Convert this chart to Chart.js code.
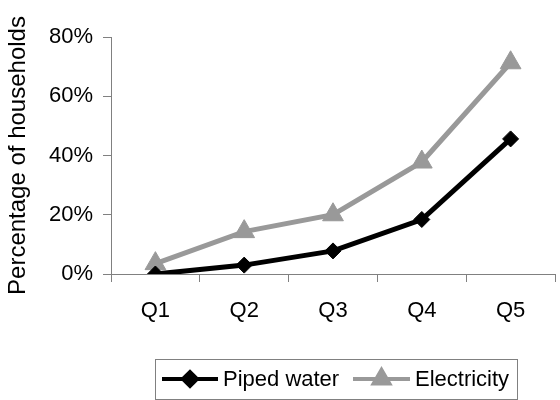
<!DOCTYPE html>
<html>
<head>
<meta charset="utf-8">
<script src="https://cdn.jsdelivr.net/npm/chart.js@4"></script>
<style>
    html, body { margin: 0; padding: 0; background: #fff; }
    #wrap { width: 560px; height: 400px; overflow: hidden; position: relative; }
    #chart { position: absolute; left: 0; top: 0; }
</style>
</head>
<body>
<div id="wrap"><canvas id="chart" width="568" height="400"></canvas></div>
<script>
// Chart data
const quintiles = ['Q1', 'Q2', 'Q3', 'Q4', 'Q5'];
const pipedWater = [0, 3, 7.8, 18.4, 45.6];
const electricity = [3.5, 14.3, 20, 37.8, 71.3];
const yTicks = [0, 20, 40, 60, 80];

const FONT = 'Liberation Sans, Arial, sans-serif';
const AXIS_GREY = '#808080';

// Boxed legend with line + marker samples, drawn below the plot
const boxedLegend = {
    id: 'boxedLegend',
    afterDraw(chart) {
        const ctx = chart.ctx;
        ctx.save();
        ctx.strokeStyle = AXIS_GREY;
        ctx.lineWidth = 1;
        ctx.strokeRect(155.5, 359.5, 362, 40);

        const entries = [
            { ds: chart.data.datasets[0], x0: 162, x1: 218, tx: 223, r: 7 },
            { ds: chart.data.datasets[1], x0: 353, x1: 410, tx: 415, r: 9 }
        ];
        const y = 379;
        entries.forEach(e => {
            ctx.strokeStyle = e.ds.borderColor;
            ctx.lineWidth = 4;
            ctx.beginPath();
            ctx.moveTo(e.x0, y);
            ctx.lineTo(e.x1, y);
            ctx.stroke();
            ctx.fillStyle = e.ds.pointBackgroundColor;
            ctx.strokeStyle = e.ds.pointBorderColor;
            Chart.helpers.drawPoint(ctx, {
                pointStyle: e.ds.pointStyle, rotation: 0, radius: e.r, borderWidth: 1
            }, (e.x0 + e.x1) / 2, y);
            ctx.fillStyle = '#000';
            ctx.font = '22px ' + FONT;
            ctx.textBaseline = 'middle';
            ctx.textAlign = 'left';
            ctx.fillText(e.ds.label, e.tx, y + 1);
        });
        ctx.restore();
    }
};

const ctx = document.getElementById('chart').getContext('2d');
new Chart(ctx, {
    type: 'line',
    data: {
        labels: quintiles,
        datasets: [{
            label: 'Piped water',
            data: pipedWater,
            borderColor: '#000000',
            borderWidth: 5,
            pointStyle: 'rectRot',
            pointRadius: 8,
            pointBackgroundColor: '#000000',
            pointBorderColor: '#000000',
            pointBorderWidth: 1,
            tension: 0,
            order: 1
        }, {
            label: 'Electricity',
            data: electricity,
            borderColor: '#999999',
            borderWidth: 5,
            pointStyle: 'triangle',
            pointRadius: 12,
            pointBackgroundColor: '#999999',
            pointBorderColor: '#999999',
            pointBorderWidth: 1,
            tension: 0,
            order: 2
        }]
    },
    options: {
        responsive: false,
        animation: false,
        layout: { padding: { top: 37, right: 0, bottom: 0, left: 0 } },
        plugins: {
            legend: { display: false },
            tooltip: { enabled: false }
        },
        scales: {
            x: {
                offset: true,
                grid: {
                    offset: true,
                    drawOnChartArea: false,
                    drawTicks: true,
                    tickLength: 8,
                    color: AXIS_GREY
                },
                border: { color: AXIS_GREY, width: 1 },
                ticks: {
                    color: '#000',
                    font: { family: FONT, size: 22 },
                    padding: 16,
                    maxRotation: 0
                },
                afterFit: scale => { scale.height = 126; }
            },
            y: {
                min: 0,
                max: 80,
                afterBuildTicks: scale => {
                    scale.ticks = yTicks.map(v => ({ value: v }));
                },
                grid: {
                    drawOnChartArea: false,
                    drawTicks: true,
                    tickLength: 8,
                    color: AXIS_GREY
                },
                border: { color: AXIS_GREY, width: 1 },
                ticks: {
                    color: '#000',
                    font: { family: FONT, size: 22 },
                    padding: 10,
                    callback: v => v + '%'
                },
                title: {
                    display: true,
                    text: 'Percentage of households',
                    color: '#000',
                    font: { family: FONT, size: 24 },
                    padding: { top: 4, bottom: 0 }
                },
                afterFit: scale => { scale.width = 111; }
            }
        }
    },
    plugins: [boxedLegend]
});
</script>
</body>
</html>
